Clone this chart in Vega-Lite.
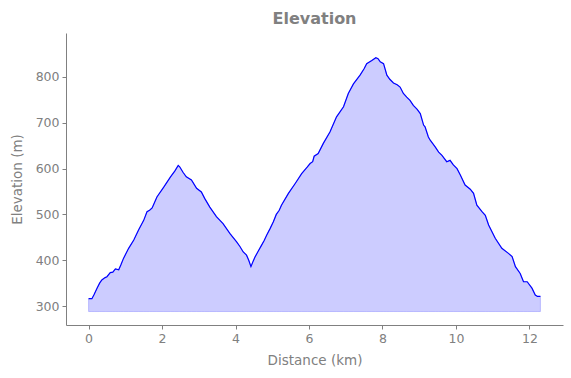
{
  "$schema": "https://vega.github.io/schema/vega-lite/v6.json",
  "autosize": {"type": "none"},
  "width": 497,
  "height": 292,
  "padding": {"left": 66, "top": 33, "right": 8, "bottom": 53},
  "background": "white",
  "title": {
    "text": "Elevation",
    "font": "DejaVu Sans",
    "fontSize": 16,
    "fontWeight": "bold",
    "color": "#808080",
    "anchor": "middle",
    "offset": 6
  },
  "data": {
    "values": [
      {"d": 0.00, "e": 316}, {"d": 0.09, "e": 316}, {"d": 0.15, "e": 325}, {"d": 0.23, "e": 339},
      {"d": 0.30, "e": 350}, {"d": 0.36, "e": 357}, {"d": 0.45, "e": 362}, {"d": 0.50, "e": 364},
      {"d": 0.59, "e": 373}, {"d": 0.66, "e": 374}, {"d": 0.73, "e": 381}, {"d": 0.82, "e": 379},
      {"d": 0.88, "e": 390}, {"d": 0.95, "e": 404}, {"d": 1.09, "e": 426}, {"d": 1.23, "e": 444},
      {"d": 1.36, "e": 466}, {"d": 1.50, "e": 487}, {"d": 1.59, "e": 506}, {"d": 1.66, "e": 509},
      {"d": 1.73, "e": 514}, {"d": 1.86, "e": 538}, {"d": 2.05, "e": 560}, {"d": 2.23, "e": 582},
      {"d": 2.35, "e": 595}, {"d": 2.44, "e": 607}, {"d": 2.48, "e": 604}, {"d": 2.57, "e": 592},
      {"d": 2.66, "e": 582}, {"d": 2.80, "e": 575}, {"d": 2.94, "e": 557}, {"d": 3.07, "e": 549},
      {"d": 3.16, "e": 535}, {"d": 3.30, "e": 516}, {"d": 3.48, "e": 495}, {"d": 3.66, "e": 480},
      {"d": 3.85, "e": 458}, {"d": 4.03, "e": 440}, {"d": 4.12, "e": 430}, {"d": 4.21, "e": 418},
      {"d": 4.30, "e": 411}, {"d": 4.36, "e": 400}, {"d": 4.42, "e": 386}, {"d": 4.48, "e": 398},
      {"d": 4.53, "e": 407}, {"d": 4.62, "e": 420}, {"d": 4.71, "e": 433}, {"d": 4.78, "e": 443},
      {"d": 4.85, "e": 455}, {"d": 4.94, "e": 469}, {"d": 5.03, "e": 484}, {"d": 5.11, "e": 500},
      {"d": 5.19, "e": 509}, {"d": 5.25, "e": 520}, {"d": 5.44, "e": 546}, {"d": 5.62, "e": 567},
      {"d": 5.80, "e": 589}, {"d": 5.95, "e": 603}, {"d": 6.03, "e": 611}, {"d": 6.10, "e": 615},
      {"d": 6.14, "e": 627}, {"d": 6.25, "e": 633}, {"d": 6.39, "e": 655}, {"d": 6.57, "e": 680},
      {"d": 6.75, "e": 713}, {"d": 6.94, "e": 735}, {"d": 7.07, "e": 764}, {"d": 7.21, "e": 785},
      {"d": 7.39, "e": 804}, {"d": 7.50, "e": 818}, {"d": 7.57, "e": 829}, {"d": 7.71, "e": 836},
      {"d": 7.82, "e": 842}, {"d": 7.88, "e": 840}, {"d": 7.94, "e": 833}, {"d": 8.03, "e": 829},
      {"d": 8.12, "e": 804}, {"d": 8.20, "e": 795}, {"d": 8.30, "e": 787}, {"d": 8.40, "e": 783},
      {"d": 8.48, "e": 778}, {"d": 8.57, "e": 764}, {"d": 8.66, "e": 756}, {"d": 8.75, "e": 749},
      {"d": 8.84, "e": 738}, {"d": 8.94, "e": 730}, {"d": 9.03, "e": 720}, {"d": 9.12, "e": 695},
      {"d": 9.16, "e": 691}, {"d": 9.25, "e": 669}, {"d": 9.30, "e": 662}, {"d": 9.44, "e": 647},
      {"d": 9.53, "e": 636}, {"d": 9.62, "e": 629}, {"d": 9.75, "e": 615}, {"d": 9.84, "e": 618},
      {"d": 9.93, "e": 608}, {"d": 10.03, "e": 600}, {"d": 10.12, "e": 586}, {"d": 10.25, "e": 564},
      {"d": 10.39, "e": 555}, {"d": 10.48, "e": 546}, {"d": 10.57, "e": 520}, {"d": 10.71, "e": 506},
      {"d": 10.80, "e": 498}, {"d": 10.89, "e": 477}, {"d": 11.07, "e": 448}, {"d": 11.25, "e": 426},
      {"d": 11.43, "e": 415}, {"d": 11.53, "e": 408}, {"d": 11.62, "e": 386}, {"d": 11.75, "e": 371},
      {"d": 11.84, "e": 353}, {"d": 11.94, "e": 353}, {"d": 12.07, "e": 339}, {"d": 12.16, "e": 324},
      {"d": 12.22, "e": 321}, {"d": 12.30, "e": 321}
    ]
  },
  "encoding": {
    "x": {
      "field": "d",
      "type": "quantitative",
      "title": "Distance (km)",
      "scale": {"domain": [-0.615, 12.915], "nice": false, "zero": false},
      "axis": {"values": [0, 2, 4, 6, 8, 10, 12]}
    },
    "y": {
      "field": "e",
      "type": "quantitative",
      "title": "Elevation (m)",
      "scale": {"domain": [258.6, 896], "nice": false, "zero": false},
      "axis": {"values": [300, 400, 500, 600, 700, 800]}
    }
  },
  "layer": [
    {
      "mark": {"type": "area", "fill": "blue", "fillOpacity": 0.2, "stroke": "blue", "strokeOpacity": 0.2, "strokeWidth": 1},
      "encoding": {"y2": {"datum": 288}}
    },
    {
      "mark": {"type": "line", "color": "blue", "strokeWidth": 1.2}
    }
  ],
  "config": {
    "view": {"stroke": null},
    "axis": {
      "grid": false,
      "domainColor": "#808080",
      "domainWidth": 1,
      "tickColor": "#808080",
      "tickSize": 4,
      "labelColor": "#808080",
      "labelFont": "DejaVu Sans",
      "labelFontSize": 12.5,
      "labelPadding": 3,
      "titleColor": "#808080",
      "titleFont": "DejaVu Sans",
      "titleFontSize": 13.5,
      "titleFontWeight": "normal"
    },
    "axisX": {"titlePadding": 9},
    "axisY": {"titlePadding": 11}
  }
}
